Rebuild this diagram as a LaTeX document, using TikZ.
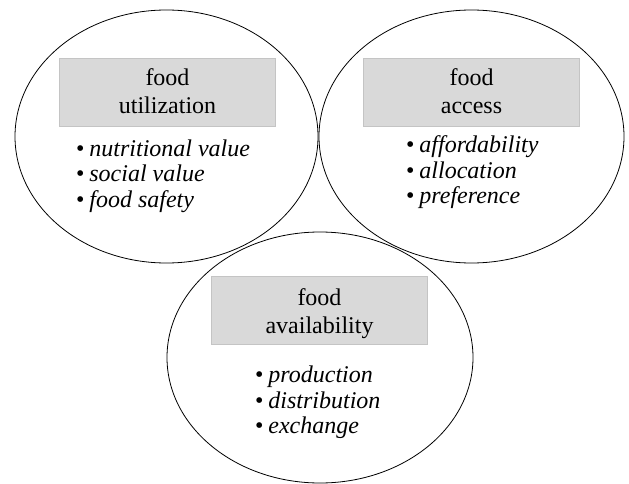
\documentclass[tikz,border=0pt]{standalone}
\usepackage{fontspec}
\setmainfont{Liberation Serif}
\usetikzlibrary{shapes.geometric}
\definecolor{boxfill}{HTML}{D9D9D9}
\definecolor{boxline}{HTML}{C4C4C4}
\newcommand{\bul}{•\hspace{0.2em}}
\tikzset{
  circ/.style={ellipse, draw=black, line width=0.8pt, inner sep=0pt},
  head/.style={rectangle, fill=boxfill, draw=boxline, line width=0.8pt,
    minimum width=216pt, minimum height=68pt},
  htext/.style={anchor=base, inner sep=0pt, font=\fontsize{24}{28}\selectfont},
  item/.style={anchor=base west, inner sep=0pt, font=\fontsize{24}{28}\selectfont}
}
\begin{document}
\begin{tikzpicture}[x=1pt,y=-1pt]
\useasboundingbox (0,0) rectangle (629,484);
\node[circ, minimum width=303pt, minimum height=253pt] (eu) at (166.5,136.5) {};
\node[circ, minimum width=305pt, minimum height=253pt] (ea) at (471.5,136.5) {};
\node[circ, minimum width=306pt, minimum height=251pt] (ev) at (320,357.5) {};
\node[head] (hu) at (167.5,92) {};
\node[head] (ha) at (471.5,92) {};
\node[head] (hv) at (319.5,310.5) {};
\node[htext] (hu1) at (167.5,86) {food};
\node[htext] (hu2) at (167.5,114) {utilization};
\node[htext] (ha1) at (471.5,86) {food};
\node[htext] (ha2) at (471.5,114) {access};
\node[htext] (hv1) at (319.5,305) {food};
\node[htext] (hv2) at (319.5,333) {availability};
\node[item] (u1) at (76,157) {\bul\textit{nutritional value}};
\node[item] (u2) at (76,182) {\bul\textit{social value}};
\node[item] (u3) at (76,207) {\bul\textit{food safety}};
\node[item] (a1) at (406,153) {\bul\textit{affordability}};
\node[item] (a2) at (406,178) {\bul\textit{allocation}};
\node[item] (a3) at (406,203) {\bul\textit{preference}};
\node[item] (v1) at (255,382) {\bul\textit{production}};
\node[item] (v2) at (255,408) {\bul\textit{distribution}};
\node[item] (v3) at (255,433) {\bul\textit{exchange}};
\end{tikzpicture}
\end{document}
